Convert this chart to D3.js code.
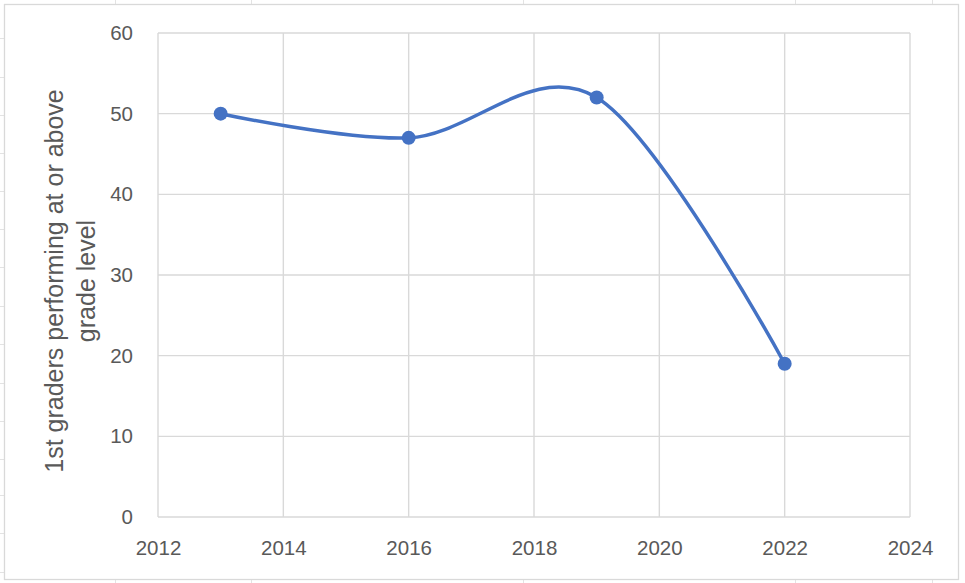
<!DOCTYPE html>
<html>
<head>
<meta charset="utf-8">
<script src="https://cdn.jsdelivr.net/npm/d3@7"></script>
<style>
  html, body { margin: 0; padding: 0; background: #ffffff; }
  svg { display: block; }
</style>
</head>
<body>
<svg id="chart" width="965" height="583"></svg>
<script>
// ---- data ----
const years = [2013, 2016, 2019, 2022];
const values = [50, 47, 52, 19];
const xTicks = [2012, 2014, 2016, 2018, 2020, 2022, 2024];
const yTicks = [0, 10, 20, 30, 40, 50, 60];
const yTitleLines = ["1st graders performing at or above", "grade level"];

// ---- layout ----
const W = 965, H = 583;
const plot = { left: 158, right: 910, top: 33, bottom: 517 };
const FONT = "'Liberation Sans', Arial, sans-serif";
const textColor = "#595959";
const gridColor = "#d9d9d9";
const lineColor = "#4472c4";

const svg = d3.select("#chart");

// faint spreadsheet cell lines outside the chart frame
const cellRows = [38, 77, 115, 153, 191, 229, 267, 306, 344, 383, 421, 459, 495, 533, 572];
const cellCols = [115, 251, 523, 795, 932];
const cells = svg.append("g").attr("stroke", "#e3e3e3").attr("stroke-width", 1);
cellRows.forEach(y => cells.append("line").attr("x1", 0).attr("x2", 4).attr("y1", y + 0.5).attr("y2", y + 0.5));
cellCols.forEach(x => {
  cells.append("line").attr("x1", x + 0.5).attr("x2", x + 0.5).attr("y1", 0).attr("y2", 4);
  cells.append("line").attr("x1", x + 0.5).attr("x2", x + 0.5).attr("y1", 580).attr("y2", H);
});

// chart frame
svg.append("rect")
  .attr("x", 4.5).attr("y", 4.5)
  .attr("width", 954).attr("height", 575)
  .attr("fill", "#ffffff")
  .attr("stroke", gridColor)
  .attr("stroke-width", 1.3);

// scales
const x = d3.scaleLinear().domain([2012, 2024]).range([plot.left, plot.right]);
const y = d3.scaleLinear().domain([0, 60]).range([plot.bottom, plot.top]);

// gridlines
const grid = svg.append("g").attr("stroke", gridColor).attr("stroke-width", 1.4);
xTicks.forEach(t => grid.append("line")
  .attr("x1", x(t)).attr("x2", x(t)).attr("y1", plot.top).attr("y2", plot.bottom));
yTicks.forEach(t => grid.append("line")
  .attr("x1", plot.left).attr("x2", plot.right).attr("y1", y(t)).attr("y2", y(t)));

// axes (labels only, via d3 axes)
const yAxis = svg.append("g")
  .attr("transform", `translate(${plot.left},0)`)
  .call(d3.axisLeft(y).tickValues(yTicks).tickFormat(d3.format("d")).tickSize(0).tickPadding(25));
const xAxis = svg.append("g")
  .attr("transform", `translate(0,${plot.bottom})`)
  .call(d3.axisBottom(x).tickValues(xTicks).tickFormat(d3.format("d")).tickSize(0).tickPadding(23));
[yAxis, xAxis].forEach(a => {
  a.select(".domain").remove();
  a.selectAll("text")
    .attr("fill", textColor)
    .style("font-family", FONT)
    .style("font-size", "20.5px");
});

// y-axis title
const titleG = svg.append("g")
  .attr("transform", `translate(0,${(plot.top + plot.bottom) / 2 + 6}) rotate(-90)`);
titleG.selectAll("text")
  .data(yTitleLines)
  .join("text")
  .attr("x", 0)
  .attr("y", (d, i) => 63 + i * 32)
  .attr("text-anchor", "middle")
  .attr("fill", textColor)
  .style("font-family", FONT)
  .style("font-size", "25px")
  .text(d => d);

// series line
const pts = years.map((yr, i) => [yr, values[i]]);
const line = d3.line()
  .x(d => x(d[0]))
  .y(d => y(d[1]))
  .curve(d3.curveCatmullRom.alpha(0));
svg.append("path")
  .datum(pts)
  .attr("d", line)
  .attr("fill", "none")
  .attr("stroke", lineColor)
  .attr("stroke-width", 3.5)
  .attr("stroke-linecap", "round");

// markers
svg.append("g").selectAll("circle")
  .data(pts)
  .join("circle")
  .attr("cx", d => x(d[0]))
  .attr("cy", d => y(d[1]))
  .attr("r", 7)
  .attr("fill", lineColor);
</script>
</body>
</html>
